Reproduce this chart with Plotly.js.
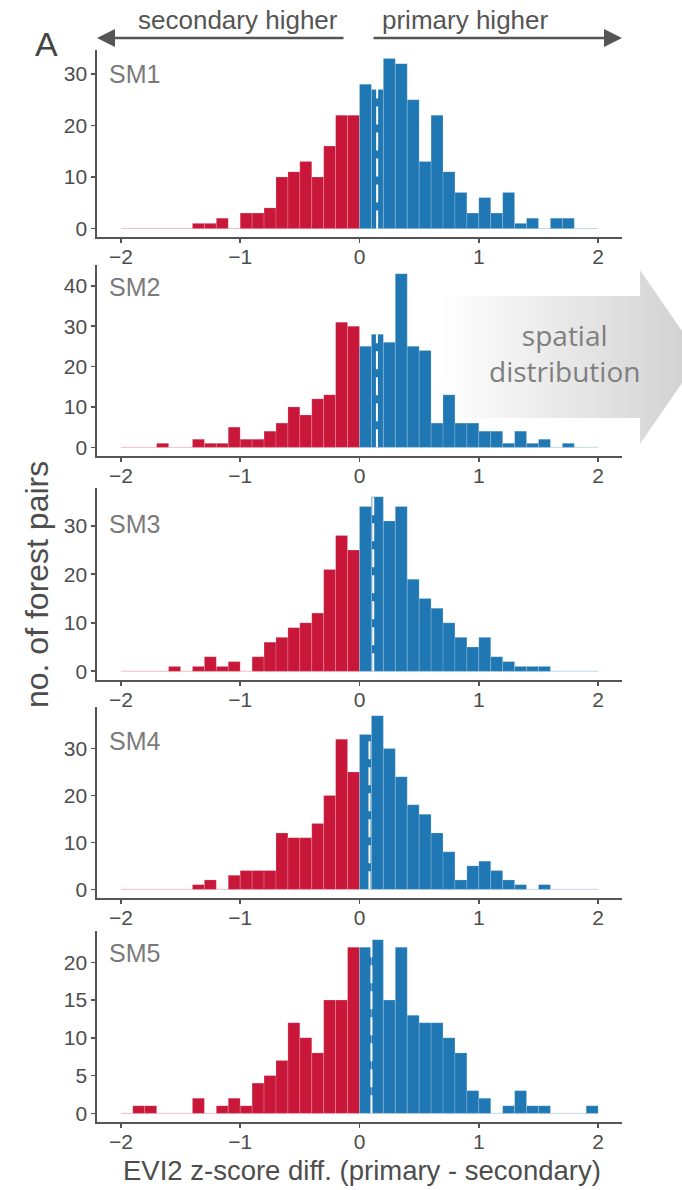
<!DOCTYPE html>
<html><head><meta charset="utf-8">
<script src="https://cdn.plot.ly/plotly-3.0.1.min.js"></script>
<style>html,body{margin:0;padding:0;background:#fff}#chart{width:682px;height:1190px}</style>
</head><body><div id="chart"></div>
<script>
// ---------- data ----------
const panelLabels = ['SM1', 'SM2', 'SM3', 'SM4', 'SM5'];
const binStart = -2.0;
const binWidth = 0.1;
// counts per 0.1-wide bin, from -2.0 to 2.0 (40 bins)
const countsSM1 = [0,0,0,0,0,0,1,1,2,0, 3,3,4,10,11,13,10,16,22,22, 28,27,33,32,25,13,22,11,7,3, 6,3,7,1,2,0,2,2,0,0];
const countsSM2 = [0,0,0,1,0,0,2,1,1,5, 2,2,4,6,10,8,12,13,31,30, 25,28,26,43,25,24,6,13,6,6, 4,4,1,4,1,2,0,1,0,0];
const countsSM3 = [0,0,0,0,1,0,1,3,1,2, 0,3,6,7,9,10,12,21,28,25, 34,36,31,34,19,15,13,10,7,5, 7,3,2,1,1,1,0,0,0,0];
const countsSM4 = [0,0,0,0,0,0,1,2,0,3, 4,4,4,12,11,11,14,20,32,25, 33,37,30,24,18,16,12,8,2,5, 6,4,2,1,0,1,0,0,0,0];
const countsSM5 = [0,1,1,0,0,0,2,0,1,2, 1,4,5,7,12,10,8,15,15,22, 22,23,15,22,13,12,12,10,8,3, 2,0,1,3,1,1,0,0,0,1];
const allCounts = [countsSM1, countsSM2, countsSM3, countsSM4, countsSM5];
const meanDiff = [0.148, 0.146, 0.115, 0.084, 0.100];
const yTickStep = [10, 10, 10, 10, 5];
const xTickVals = [-2, -1, 0, 1, 2];
const xTickText = ['\u22122', '\u22121', '0', '1', '2'];

// ---------- styling / layout constants ----------
const W = 682, H = 1190;
const RED = '#C9173A', BLUE = '#1F78B4';
const AXC = '#555555', TXT = '#4d4d4d';
const FONT = 'Liberation Sans, Arial, Helvetica, sans-serif';
const plotLeft = 97, plotRight = 622;
const panelTop = [50, 265, 488, 707, 931];
const panelBottom = [237, 456, 680, 898, 1122];
const labelCenterY = [74, 287, 524, 741, 953];

const px2x = v => v / W;
const px2y = v => 1 - v / H;

const traces = [];
// decorative gradient arrow ("spatial distribution") on a full-page subplot
const arrowX = [440, 640, 640, 700, 640, 640, 440, 440];
const arrowY = [296, 296, 270, 357, 444, 418, 418, 296];
traces.push({
  type: 'scatter', mode: 'lines', x: arrowX, y: arrowY, xaxis: 'x', yaxis: 'y',
  fill: 'toself', line: {width: 0, color: 'rgba(0,0,0,0)'},
  fillcolor: '#e2e2e2',
  fillgradient: {type: 'horizontal', start: 440, stop: 682,
    colorscale: [[0, 'rgba(255,255,255,1)'], [1, '#d3d3d3']]},
  hoverinfo: 'skip', showlegend: false
});

const layout = {
  width: W, height: H,
  margin: {l: 0, r: 0, t: 0, b: 0},
  paper_bgcolor: '#ffffff', plot_bgcolor: 'rgba(0,0,0,0)',
  showlegend: false, bargap: 0,
  font: {family: FONT, color: TXT},
  xaxis: {domain: [0, 1], range: [0, W], visible: false, fixedrange: true},
  yaxis: {domain: [0, 1], range: [H, 0], visible: false, fixedrange: true},
  annotations: [], shapes: []
};

allCounts.forEach((counts, p) => {
  const k = p + 2;
  const xa = 'x' + k, ya = 'y' + k;
  const centers = counts.map((_, i) => +(binStart + binWidth * (i + 0.5)).toFixed(3));
  const binEnd = binStart + binWidth * counts.length;
  const maxC = Math.max(...counts);
  // faint zero-count outline along the baseline
  traces.push({type: 'scatter', mode: 'lines', x: [binStart, 0], y: [0, 0], xaxis: xa, yaxis: ya,
    line: {color: 'rgba(201,23,58,0.28)', width: 1}, hoverinfo: 'skip'});
  traces.push({type: 'scatter', mode: 'lines', x: [0, binEnd], y: [0, 0], xaxis: xa, yaxis: ya,
    line: {color: 'rgba(31,120,180,0.28)', width: 1}, hoverinfo: 'skip'});
  traces.push({
    type: 'bar', x: centers, y: counts, width: binWidth, xaxis: xa, yaxis: ya,
    marker: {color: centers.map(c => c < 0 ? RED : BLUE),
             line: {color: 'rgba(255,255,255,0.35)', width: 0.5}},
    hoverinfo: 'x+y'
  });
  layout['xaxis' + k] = {
    domain: [px2x(plotLeft), px2x(plotRight)], anchor: ya,
    range: [binStart - 0.05 * (binEnd - binStart), binEnd + 0.05 * (binEnd - binStart)],
    tickmode: 'array', tickvals: xTickVals, ticktext: xTickText,
    showline: true, linecolor: AXC, linewidth: 1.6,
    ticks: 'outside', ticklen: 4, tickwidth: 1.6, tickcolor: AXC,
    ticklabelstandoff: -4,
    tickfont: {size: 21, color: TXT, family: FONT},
    showgrid: false, zeroline: false, fixedrange: true
  };
  layout['yaxis' + k] = {
    domain: [px2y(panelBottom[p]), px2y(panelTop[p])], anchor: xa,
    range: [-0.05 * maxC, 1.05 * maxC],
    tick0: 0, dtick: yTickStep[p],
    showline: true, linecolor: AXC, linewidth: 1.6,
    ticks: 'outside', ticklen: 4, tickwidth: 1.6, tickcolor: AXC,
    tickfont: {size: 21, color: TXT, family: FONT},
    showgrid: false, zeroline: false, fixedrange: true
  };
  // mean line (white dashed)
  layout.shapes.push({type: 'line', xref: xa, yref: ya, x0: meanDiff[p], x1: meanDiff[p],
    y0: 0, y1: 1.05 * maxC, line: {color: '#ffffff', width: 2, dash: '18px,8px'}, layer: 'above'});
  // panel label
  layout.annotations.push({text: panelLabels[p], xref: 'paper', yref: 'paper',
    x: px2x(107), y: px2y(labelCenterY[p]), xanchor: 'left', yanchor: 'middle',
    showarrow: false, font: {size: 25, color: '#7a7a7a', family: FONT}});
});

// direction arrows and labels at the top
const arrowYpx = 38;
layout.annotations.push(
  {text: '', xref: 'paper', yref: 'paper', x: px2x(plotLeft), y: px2y(arrowYpx), ax: 248, ay: 0,
   showarrow: true, arrowhead: 2, arrowsize: 1.5, arrowwidth: 2.4, arrowcolor: '#555'},
  {text: '', xref: 'paper', yref: 'paper', x: px2x(plotRight), y: px2y(arrowYpx), ax: -250, ay: 0,
   showarrow: true, arrowhead: 2, arrowsize: 1.5, arrowwidth: 2.4, arrowcolor: '#555'},
  {text: 'secondary higher', xref: 'paper', yref: 'paper', x: px2x(238), y: px2y(20),
   xanchor: 'center', yanchor: 'middle', showarrow: false, font: {size: 26, color: '#555'}},
  {text: 'primary higher', xref: 'paper', yref: 'paper', x: px2x(466), y: px2y(20),
   xanchor: 'center', yanchor: 'middle', showarrow: false, font: {size: 26, color: '#555'}},
  {text: 'A', xref: 'paper', yref: 'paper', x: px2x(47), y: px2y(44),
   xanchor: 'center', yanchor: 'middle', showarrow: false, font: {size: 34, color: '#444'}},
  {text: 'spatial<br>distribution', xref: 'paper', yref: 'paper', x: px2x(564), y: px2y(353),
   xanchor: 'center', yanchor: 'middle', showarrow: false,
   font: {size: 28, color: '#7f7f7f', family: 'Open Sans, sans-serif'}},
  {text: 'no. of forest pairs', xref: 'paper', yref: 'paper', x: px2x(37), y: px2y(585),
   xanchor: 'center', yanchor: 'middle', textangle: -90, showarrow: false,
   font: {size: 32, color: '#4d4d4d'}},
  {text: 'EVI2 z-score diff. (primary - secondary)', xref: 'paper', yref: 'paper',
   x: px2x(362), y: px2y(1170), xanchor: 'center', yanchor: 'middle', showarrow: false,
   font: {size: 27.5, color: '#4d4d4d'}}
);

Plotly.newPlot('chart', traces, layout, {displayModeBar: false, staticPlot: true});
</script>
</body></html>
